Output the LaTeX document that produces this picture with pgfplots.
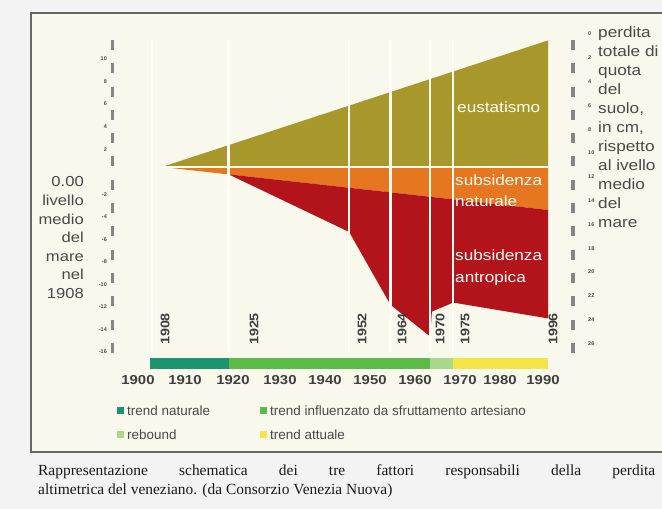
\documentclass[border=0pt]{standalone}
\usepackage{pgfplots}
\pgfplotsset{compat=1.18}
\usepackage{fontspec}
\setmainfont{Liberation Sans}
\newfontfamily\lab[FakeStretch=1.15]{Liberation Sans}
\newfontfamily\capfont{Liberation Serif}
\definecolor{outerbg}{HTML}{F3F3F3}
\definecolor{cream}{HTML}{F9F8EC}
\definecolor{olivec}{HTML}{A8982C}
\definecolor{orangec}{HTML}{E6761F}
\definecolor{redc}{HTML}{B3141C}
\definecolor{tealc}{HTML}{1C9470}
\definecolor{greenc}{HTML}{5CBA48}
\definecolor{lgreenc}{HTML}{A8D98A}
\definecolor{yellowc}{HTML}{F5E448}
\definecolor{framec}{HTML}{666666}
\definecolor{barc}{HTML}{858585}
\definecolor{txt}{HTML}{4A4A4A}
\definecolor{linec}{HTML}{FFFDF4}
\begin{document}
\begin{tikzpicture}[x=1bp,y=1bp]
\useasboundingbox (0,0) rectangle (662,509);
\fill[outerbg] (0,0) rectangle (662,509);
\begin{axis}[at={(31bp,57bp)}, anchor=south west, scale only axis,
  width=631bp, height=439bp,
  xmin=1881.11, xmax=2021.33, ymin=-25.221, ymax=13.628,
  axis line style={draw=none}, xtick=\empty, ytick=\empty,
  axis background/.style={fill=cream}, clip=false]
% eustatismo
\addplot[fill=olivec, draw=none] coordinates {(1910.2,0) (1996,11.2) (1996,0)} --cycle;
% subsidenza naturale
\addplot[fill=orangec, draw=none] coordinates {(1910.2,0) (1996,0) (1996,-3.8)} --cycle;
% subsidenza antropica
\addplot[fill=redc, draw=none] coordinates {(1925,-0.65) (1996,-3.8) (1996,-13.4) (1974.9,-12.0) (1970.2,-12.8) (1969.8,-15.0) (1961,-12.2) (1951.8,-5.75)} --cycle;
% year lines
\addplot[linec, line width=2.5bp] coordinates {(1908,11.25) (1908,-16.4)};
\addplot[linec, line width=2.5bp] coordinates {(1925,11.25) (1925,-16.4)};
\addplot[linec, line width=2.5bp] coordinates {(1951.8,11.25) (1951.8,-16.4)};
\addplot[linec, line width=2.5bp] coordinates {(1961,11.25) (1961,-16.4)};
\addplot[linec, line width=2.5bp] coordinates {(1969.8,11.25) (1969.8,-16.4)};
\addplot[linec, line width=2.5bp] coordinates {(1974.9,11.25) (1974.9,-16.4)};
% zero line
\addplot[linec, line width=2bp] coordinates {(1910.2,0) (1996,0)};
% time bar
\addplot[fill=tealc, draw=none] coordinates {(1907.6,-16.9) (1925,-16.9) (1925,-17.9) (1907.6,-17.9)} --cycle;
\addplot[fill=greenc, draw=none] coordinates {(1925,-16.9) (1969.8,-16.9) (1969.8,-17.9) (1925,-17.9)} --cycle;
\addplot[fill=lgreenc, draw=none] coordinates {(1969.8,-16.9) (1974.9,-16.9) (1974.9,-17.9) (1969.8,-17.9)} --cycle;
\addplot[fill=yellowc, draw=none] coordinates {(1974.9,-16.9) (1996,-16.9) (1996,-17.9) (1974.9,-17.9)} --cycle;
\end{axis}
\begin{scope}[y=-1bp, yshift=509bp]
% frame
\draw[framec, line width=2.5bp] (680,13) -- (31,13) -- (31,452) -- (680,452);
% scale bars
\draw[barc, line width=3.5bp, dash pattern=on 10bp off 13.3bp] (112.5,40) -- (112.5,354);
\draw[barc, line width=3.5bp, dash pattern=on 10bp off 13.3bp] (573,40) -- (573,354);
% tiny labels
\foreach \v in {10,8,6,4,2,-2,-4,-6,-8,-10,-12,-14,-16}
  \node[anchor=east, inner sep=0, text=txt, font=\fontsize{5.5}{6}\selectfont\bfseries] at (107,{171.7-11.27*\v}) {\v};
\foreach \v in {0,2,...,26}
  \node[anchor=west, inner sep=0, text=txt, font=\fontsize{5.5}{6}\selectfont\bfseries] at (588,{34+11.9*\v}) {\v};
% left text
\foreach \t/\y in {0.00/187,livello/205.6,medio/224.2,del/242.8,mare/261.4,nel/280,1908/298.6}
  \node[anchor=base east, inner sep=0, text=txt, font=\lab\fontsize{14.5}{17}\selectfont] at (84,\y) {\t};
% right text
\foreach \t/\y in {perdita/38,totale di/57,quota/76,del/95,{suolo,}/114,{in cm,}/133,rispetto/152,al ivello/171,medio/190,del/209,mare/228}
  \node[anchor=base west, inner sep=0, text=txt, font=\lab\fontsize{15}{17}\selectfont] at (598,\y) {\t};
% labels in shapes
\node[anchor=base west, inner sep=0, text=linec, font=\lab\fontsize{15}{17}\selectfont] at (457,112.5) {eustatismo};
\node[anchor=base west, inner sep=0, text=linec, font=\lab\fontsize{15}{17}\selectfont] at (455,185.5) {subsidenza};
\node[anchor=base west, inner sep=0, text=linec, font=\lab\fontsize{15}{17}\selectfont] at (455,207) {naturale};
\node[anchor=base west, inner sep=0, text=linec, font=\lab\fontsize{15}{17}\selectfont] at (455,261) {subsidenza};
\node[anchor=base west, inner sep=0, text=linec, font=\lab\fontsize{15}{17}\selectfont] at (455,283) {antropica};
% rotated year labels
\foreach \x/\l in {165/1908,254/1925,362/1952,402/1964,440/1970,465/1975,553/1996}
  \node[rotate=90, inner sep=0, text=txt!85!black, font=\lab\fontsize{12.5}{14}\selectfont\bfseries] at (\x,329) {\l};
% bottom year labels
\foreach \x/\l in {138/1900,185/1910,233/1920,280/1930,325/1940,370/1950,415/1960,460/1970,500/1980,543/1990}
  \node[inner sep=0, text=txt!85!black, font=\lab\fontsize{13}{14}\selectfont\bfseries] at (\x,380) {\l};
% legend
\fill[tealc] (116.5,407.5) rectangle (123.5,414.5);
\fill[greenc] (259.5,407.5) rectangle (266.5,414.5);
\fill[lgreenc] (116.5,431.5) rectangle (123.5,438.5);
\fill[yellowc] (259.5,431.5) rectangle (266.5,438.5);
\node[anchor=base west, inner sep=0, text=txt, font=\fontsize{13.5}{15}\selectfont] at (127,415.5) {trend naturale};
\node[anchor=base west, inner sep=0, text=txt, font=\fontsize{13.5}{15}\selectfont] at (270,415.5) {trend influenzato da sfruttamento artesiano};
\node[anchor=base west, inner sep=0, text=txt, font=\fontsize{13.5}{15}\selectfont] at (127,439.5) {rebound};
\node[anchor=base west, inner sep=0, text=txt, font=\fontsize{13.5}{15}\selectfont] at (270,439.5) {trend attuale};
% caption
\node[anchor=base west, inner sep=0, text=black!90, font=\capfont\fontsize{15.5}{18}\selectfont] at (38,476) {\makebox[617bp][s]{Rappresentazione schematica dei tre fattori responsabili della perdita}};
\node[anchor=base west, inner sep=0, text=black!90, font=\capfont\fontsize{15.5}{18}\selectfont] at (38,495) {altimetrica del veneziano. (da Consorzio Venezia Nuova)};
\end{scope}
\end{tikzpicture}
\end{document}
